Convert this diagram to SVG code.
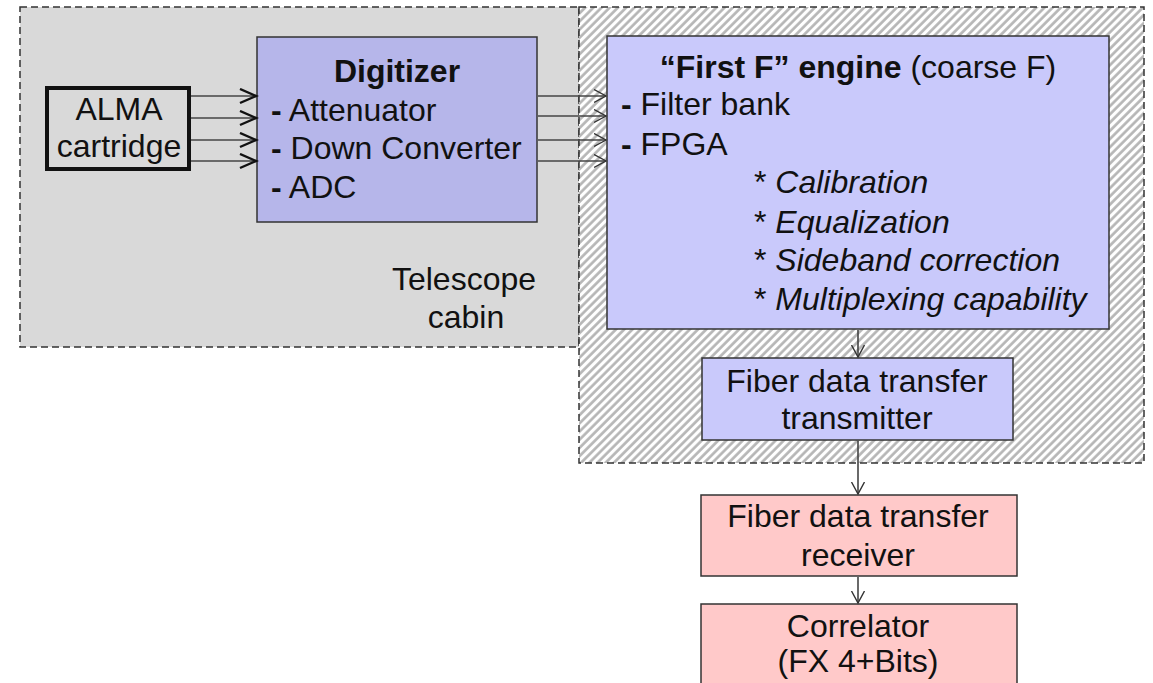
<svg xmlns="http://www.w3.org/2000/svg" width="1153" height="683" viewBox="0 0 1153 683">
<style>
text{font-family:"Liberation Sans",Arial,sans-serif;font-size:32px;fill:#111}
.c{text-anchor:middle}
.b{font-weight:bold}
.i{font-style:italic}
.box{stroke:#333;stroke-width:1.5}
.grp{stroke:#333;stroke-width:1.5;stroke-dasharray:7 4}
.ln{stroke:#444;stroke-width:1.6;fill:none}
</style>
<defs>
<pattern id="hatch" patternUnits="userSpaceOnUse" width="5.8" height="5.8" patternTransform="rotate(45)">
<rect width="5.8" height="5.8" fill="#fff"/>
<line x1="1.5" y1="0" x2="1.5" y2="5.8" stroke="#b4b4b4" stroke-width="2.6"/>
</pattern>
<marker id="ah" markerUnits="userSpaceOnUse" markerWidth="20" markerHeight="20" refX="17" refY="8" orient="auto">
<path d="M1,1 L17,8 L1,15" fill="none" stroke="#111" stroke-width="2.4"/>
</marker>
<marker id="at" markerUnits="userSpaceOnUse" markerWidth="16" markerHeight="16" refX="12" refY="7" orient="auto">
<path d="M0,0.5 L12,7 L0,13.5" fill="none" stroke="#333" stroke-width="1.4"/>
</marker>
</defs>
<g id="telescope-cabin">
<rect x="20" y="7" width="559" height="340" fill="#d9d9d9" class="grp"/>
<text class="c" x="464" y="290">Telescope</text>
<text class="c" x="466" y="328">cabin</text>
</g>
<g id="hatched-region">
<rect x="579" y="7" width="565" height="456" fill="url(#hatch)" class="grp"/>
</g>
<g id="alma-cartridge">
<rect x="47" y="88" width="142" height="81" fill="#d9d9d9" stroke="#111" stroke-width="4"/>
<text class="c" x="119" y="120">ALMA</text>
<text class="c" x="119" y="157">cartridge</text>
</g>
<g id="digitizer">
<rect x="257" y="37" width="280" height="185" fill="#b6b6ea" class="box"/>
<text class="c b" x="397" y="82">Digitizer</text>
<text x="271" y="121"><tspan class="b">-</tspan> Attenuator</text>
<text x="271" y="159"><tspan class="b">-</tspan> Down Converter</text>
<text x="271" y="198"><tspan class="b">-</tspan> ADC</text>
</g>
<g id="first-f-engine">
<rect x="607" y="36" width="502" height="293" fill="#c9c9fb" class="box"/>
<text class="c" x="858" y="78"><tspan class="b">“First F” engine</tspan><tspan> (coarse F)</tspan></text>
<text x="621" y="115"><tspan class="b">-</tspan> Filter bank</text>
<text x="621" y="155"><tspan class="b">-</tspan> FPGA</text>
<text x="754" y="193">* <tspan class="i">Calibration</tspan></text>
<text x="754" y="233">* <tspan class="i">Equalization</tspan></text>
<text x="754" y="271">* <tspan class="i">Sideband correction</tspan></text>
<text x="754" y="310">* <tspan class="i">Multiplexing capability</tspan></text>
</g>
<g id="transmitter">
<rect x="702" y="358" width="311" height="82" fill="#c9c9fb" class="box"/>
<text class="c" x="857" y="392">Fiber data transfer</text>
<text class="c" x="857" y="429">transmitter</text>
</g>
<g id="receiver">
<rect x="701" y="495" width="316" height="81" fill="#ffc9c9" class="box"/>
<text class="c" x="858" y="527">Fiber data transfer</text>
<text class="c" x="858" y="566">receiver</text>
</g>
<g id="correlator">
<rect x="701" y="604" width="316" height="100" fill="#ffc9c9" class="box"/>
<text class="c" x="858" y="637">Correlator</text>
<text class="c" x="858" y="672">(FX 4+Bits)</text>
</g>
<g id="connectors">
<line class="ln" x1="191" y1="96" x2="256" y2="96" marker-end="url(#ah)"/>
<line class="ln" x1="191" y1="118" x2="256" y2="118" marker-end="url(#ah)"/>
<line class="ln" x1="191" y1="140" x2="256" y2="140" marker-end="url(#ah)"/>
<line class="ln" x1="191" y1="161" x2="256" y2="161" marker-end="url(#ah)"/>
<line class="ln" x1="538" y1="96" x2="606" y2="96" marker-end="url(#at)"/>
<line class="ln" x1="538" y1="116" x2="606" y2="116" marker-end="url(#at)"/>
<line class="ln" x1="538" y1="140" x2="606" y2="140" marker-end="url(#at)"/>
<line class="ln" x1="538" y1="161" x2="606" y2="161" marker-end="url(#at)"/>
<line class="ln" x1="858" y1="330" x2="858" y2="357" marker-end="url(#at)"/>
<line class="ln" x1="858" y1="441" x2="858" y2="494" marker-end="url(#at)"/>
<line class="ln" x1="858" y1="577" x2="858" y2="603" marker-end="url(#at)"/>
</g>
</svg>
